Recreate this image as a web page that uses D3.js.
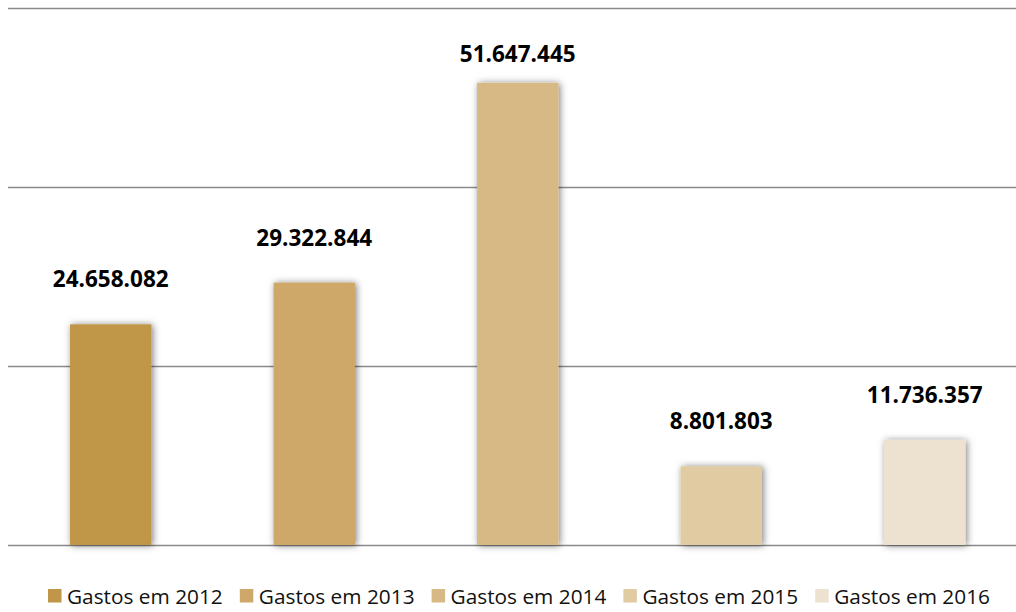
<!DOCTYPE html>
<html>
<head>
<meta charset="utf-8">
<script src="https://cdn.jsdelivr.net/npm/d3@7"></script>
<style>
  html, body { margin: 0; padding: 0; background: #ffffff; }
  svg { display: block; }
</style>
</head>
<body>
<svg id="chart" width="1016" height="612"></svg>
<script>
// Gastos anuais
const categories = ["Gastos em 2012", "Gastos em 2013", "Gastos em 2014", "Gastos em 2015", "Gastos em 2016"];
const values = [24658082, 29322844, 51647445, 8801803, 11736357];
const colors = ["#C09749", "#CDA869", "#D7B985", "#E0CBA3", "#EDE2CF"];
const yTicks = [0, 20000000, 40000000, 60000000];

const W = 1016, H = 612;
const svg = d3.select("#chart");

const x = d3.scaleBand()
  .domain(categories)
  .range([9, 1026.5])
  .paddingInner(0.6)
  .paddingOuter(0.3);

const y = d3.scaleLinear()
  .domain([0, 60000000])
  .range([545, 8]);

const fmt = d3.formatLocale({ decimal: ",", thousands: ".", grouping: [3], currency: ["", ""] }).format(",d");

// soft glow-like shadow around the bars
const defs = svg.append("defs");
const f = defs.append("filter").attr("id", "barShadow")
  .attr("x", "-30%").attr("y", "-30%").attr("width", "160%").attr("height", "160%");
f.append("feDropShadow")
  .attr("dx", 1.5).attr("dy", 0.5)
  .attr("stdDeviation", 3.5)
  .attr("flood-color", "#000")
  .attr("flood-opacity", 0.5);

// horizontal gridlines
const grid = svg.append("g")
  .attr("transform", "translate(8,0)")
  .call(d3.axisLeft(y).tickValues(yTicks).tickSize(-(W - 8)).tickFormat(""));
grid.select(".domain").remove();
grid.selectAll(".tick line")
  .attr("stroke", "#8a8a8a")
  .attr("stroke-width", 1.6);

// bars
svg.append("g").selectAll("rect")
  .data(values)
  .join("rect")
  .attr("x", (d, i) => x(categories[i]))
  .attr("y", d => y(d))
  .attr("width", x.bandwidth())
  .attr("height", d => y(0) - y(d))
  .attr("fill", (d, i) => colors[i])
  .attr("filter", "url(#barShadow)");

// value labels
svg.append("g").selectAll("text")
  .data(values)
  .join("text")
  .attr("x", (d, i) => x(categories[i]) + x.bandwidth() / 2)
  .attr("y", d => Math.max(y(d) - 37, 62))
  .attr("text-anchor", "middle")
  .attr("font-family", "'Open Sans', sans-serif")
  .attr("font-weight", 700)
  .attr("font-size", 22.5)
  .attr("fill", "#000")
  .text(d => fmt(d));

// legend
const legend = svg.append("g").attr("transform", "translate(48,0)");
const item = legend.selectAll("g")
  .data(categories)
  .join("g")
  .attr("transform", (d, i) => `translate(${i * 191.8},0)`);
item.append("rect")
  .attr("x", 0).attr("y", 589)
  .attr("width", 13.5).attr("height", 13.5)
  .attr("fill", (d, i) => colors[i]);
item.append("text")
  .attr("x", 19).attr("y", 604)
  .attr("font-family", "'Open Sans', sans-serif")
  .attr("font-size", 20.8)
  .attr("fill", "#111")
  .text(d => d);
</script>
</body>
</html>
